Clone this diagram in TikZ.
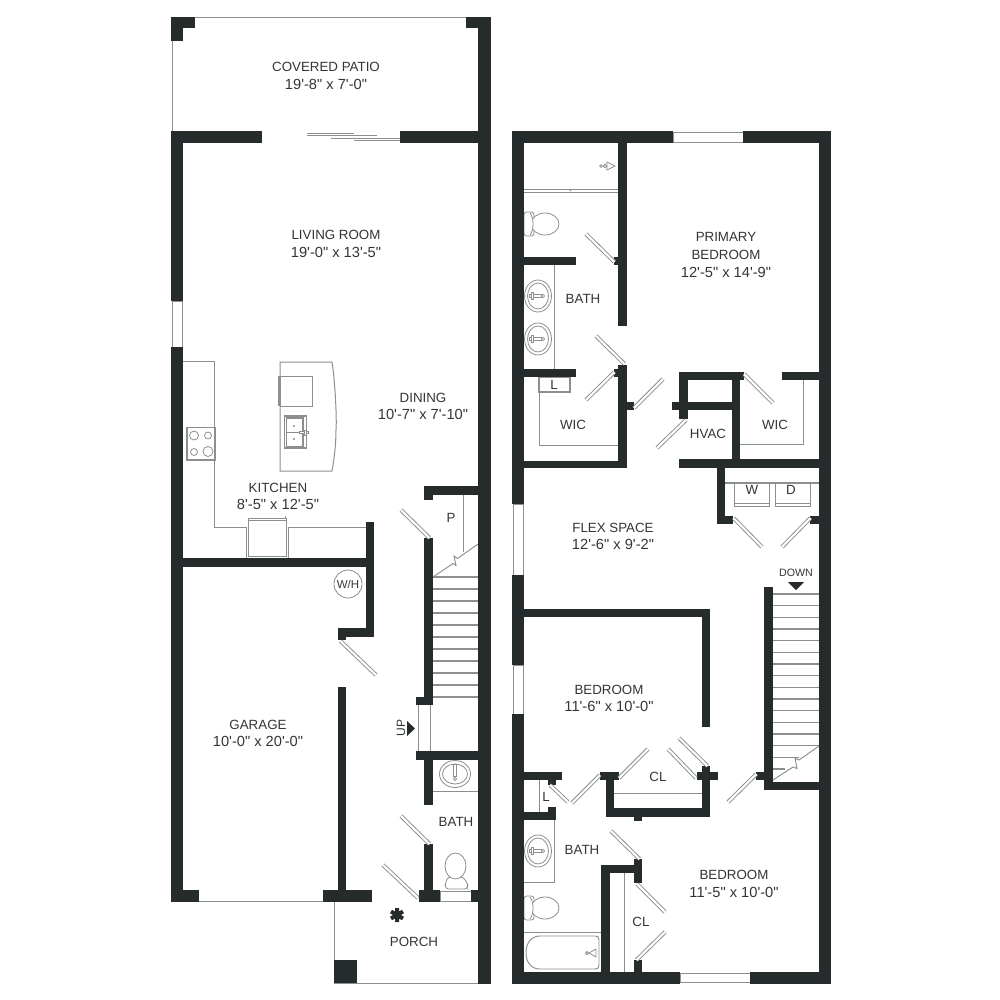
\documentclass[tikz,border=0pt]{standalone}
\usepackage{fontspec}
\setmainfont{Liberation Sans}[Ligatures=TeXOff]
\definecolor{wallc}{HTML}{262B2B}
\definecolor{linec}{HTML}{8C8F8F}
\definecolor{textc}{HTML}{333636}
\newcommand{\nm}[1]{{\fontsize{10}{13.2}\selectfont #1}}
\newcommand{\dm}[1]{{\fontsize{11}{13.2}\selectfont #1}}
\tikzset{
  wall/.style={fill=wallc,draw=none},
  thin line/.style={draw=linec,line width=0.75pt},
  fine/.style={draw=linec,line width=0.55pt},
  fixture/.style={draw=linec,line width=0.6pt,fill=white},
  leafo/.style={draw=linec,line width=3pt},
  leafi/.style={draw=white,line width=1.6pt},
  lab/.style={text=textc,align=center,inner sep=0pt,font=\fontsize{10}{13.2}\selectfont},
  smalllab/.style={text=textc,align=center,inner sep=0pt,font=\fontsize{8}{10}\selectfont},
  tread/.style={draw=linec,line width=0.8pt}
}
\newcommand{\Wl}[4]{\fill[wall] (#1,#2) rectangle (#3,#4);}
\newcommand{\Dr}[4]{\draw[leafo] (#1,#2) -- (#3,#4); \draw[leafi] (#1,#2) -- (#3,#4);}
\newcommand{\Win}[4]{\draw[fine,fill=white] (#1,#2) rectangle (#3,#4);}
\newcommand{\SinkH}[2]{%
  \draw[fixture] (#1,#2) ellipse (13.5 and 16);
  \draw[fixture] (#1,#2) ellipse (10.5 and 13);
  \draw[fixture] (#1-9,#2-1.5) rectangle (#1+3,#2+1.5);
  \draw[fixture] (#1-7,#2-3.5) rectangle (#1-5,#2+3.5);
  \draw[fixture] (#1+5,#2) circle (1.6);}
\newcommand{\ToiletL}[2]{%
  \draw[fixture,rounded corners=2pt] (524,#2-12) rectangle (534,#2+12);
  \draw[fixture] (#1,#2) ellipse (14 and 11);
  \draw[fixture] (530,#2-11) .. controls (534,#2-6) and (534,#2+6) .. (530,#2+11);}
\begin{document}
\begin{tikzpicture}[x=0.75pt,y=-0.75pt]
\useasboundingbox (0,0) rectangle (1000,1000);
\fill[white] (0,0) rectangle (1000,1000);

% ---------- left plan: thin lines ----------
\draw[thin line] (195,17.5) -- (466,17.5);
\draw[thin line] (172,41) -- (172,131);
\draw[thin line] (199,901.5) -- (323,901.5);
\draw[thin line] (334,902) -- (334,983) -- (478,983);
\Win{172}{301}{182}{348}
\Win{440}{891}{471}{901}
% sliding door
\draw[leafo,line width=2.4pt] (354,139.5) -- (400,139.5); \draw[leafi,line width=1.2pt] (354,139.5) -- (400,139.5);
\draw[leafo,line width=2.4pt] (331,137) -- (377,137); \draw[leafi,line width=1.2pt] (331,137) -- (377,137);
\draw[leafo,line width=2.4pt] (307,134.5) -- (354,134.5); \draw[leafi,line width=1.2pt] (307,134.5) -- (354,134.5);
% kitchen counters
\draw[thin line] (183,361) -- (214,361) -- (214,527) -- (246,527) -- (246,558);
\draw[thin line] (288,558) -- (288,527) -- (366,527);
\draw[fixture] (248,518) rectangle (286,556);
\draw[fine] (248,520.5) -- (286,520.5);
\draw[fine] (285,516) -- (285,518);
% stove
\draw[fixture,line width=1pt] (187,427.5) rectangle (215,460);
\draw[fixture] (194,435.5) circle (4.5);
\draw[fixture] (208,435.5) circle (3.5);
\draw[fixture] (194,452) circle (3.5);
\draw[fixture] (208,451.5) circle (5);
% island
\draw[thin line] (280,362) -- (332,362) .. controls (335,380) and (337,420) .. (336,430) .. controls (336,445) and (334,460) .. (332,471) -- (280,471) -- cycle;
\draw[fixture] (280,376) rectangle (312,406);
\draw[fixture,line width=1pt] (279,376) -- (279,406);
\draw[fixture,line width=0.8pt] (284.5,416) rectangle (306.5,448);
\draw[fixture,line width=0.8pt] (286.5,418) rectangle (303,447);
\draw[fine] (286.5,432.5) -- (303,432.5);
\fill[linec] (294,426) circle (1.2); \fill[linec] (294,439) circle (1.2);
\draw[fixture] (299,431.5) rectangle (308,433.5);
\draw[fixture] (304,430) rectangle (306,435);
% pantry / stairs
\draw[thin line] (463,495) -- (463,552);
\foreach \yy in {577,589,601,613,625,637,649,661,673,685,697}
  \draw[tread] (433,\yy) -- (478,\yy);
\draw[fine,line width=0.7pt] (433,577) -- (453,563.5) -- (456,565.5) -- (454,556) -- (457.5,558.5) -- (478,544);
\draw[thin line] (418,705) -- (418,751);
\draw[thin line] (430,705) -- (430,751);
% bath fixtures
\draw[thin line] (432,791) -- (478,791);
\draw[fixture] (455,774) ellipse (15.5 and 13.5);
\draw[fixture] (455,774) ellipse (12.5 and 10);
\draw[fixture] (453.5,764) rectangle (456.5,776);
\draw[fixture] (455,779) circle (1.6);
\draw[fixture,rounded corners=2pt] (445,884) -- (448,877) -- (463,877) -- (468,884) -- (467,889) -- (446,889) -- cycle;
\draw[fixture] (455.5,866) ellipse (10.5 and 13);
% W/H
\node[draw=linec,line width=0.6pt,circle,minimum size=21pt,inner sep=0pt] (wh) at (348,584) {};
\node[smalllab,font=\fontsize{8.6}{10}\selectfont] (whl) at (348,584) {W/H};
% up arrow
\fill[wallc] (407,721) -- (415,728.5) -- (407,736) -- cycle;
\node[smalllab,font=\fontsize{9}{10}\selectfont,rotate=90] (up) at (401,728) {UP};
% porch column
\fill[wallc] (334,960) rectangle (357,983);
% star
\draw[wallc,line width=3pt] (397,908) -- (397,922) (391,911.5) -- (403,918.5) (391,918.5) -- (403,911.5);

% ---------- left plan: walls ----------
\Wl{171}{17}{195}{28} \Wl{171}{28}{183}{41}
\Wl{466}{17}{491}{28} \Wl{478}{28}{491}{984}
\Wl{171}{131}{262}{143} \Wl{400}{131}{478}{143}
\Wl{171}{131}{183}{301} \Wl{171}{347}{183}{902}
\Wl{183}{558}{373}{567} \Wl{366}{522}{373.5}{637}
\Wl{338}{628}{373.5}{637} \Wl{338}{637}{346}{640}
\Wl{424}{486}{478}{495} \Wl{424}{495}{433}{500}
\Wl{424}{538}{432.5}{705} \Wl{416}{697}{432.5}{705}
\Wl{416}{751}{478}{760} \Wl{424}{760}{432.5}{805}
\Wl{424}{844}{432.5}{890} \Wl{419}{890}{440}{902} \Wl{471}{890}{478}{902}
\Wl{338}{687}{346}{890} \Wl{323}{890}{372}{902}
\Wl{171}{890}{199}{902}
% left doors
\Dr{401}{510}{429.5}{538}
\Dr{340.5}{641}{376}{675}
\Dr{401}{816}{429.5}{844}
\Dr{383}{865}{418}{898}

% ---------- right plan: thin lines ----------
\Win{673}{132}{743}{142}
\Win{513}{504}{523}{575}
\Win{513}{665}{523}{714}
\Win{680}{973}{750}{982}
% primary bath
\draw[fixture,line width=1.2pt] (524,189.5) -- (618,189.5);
\draw[fine] (524,192.5) -- (618,192.5);
\fill[linec] (570.5,190.5) circle (0.9);
\draw[fixture] (607,162) -- (615,166) -- (607,170) -- cycle;
\draw[fixture] (605,166) circle (1.8);
\draw[fine] (601,166) circle (1.3);
\ToiletL{545}{224}
\draw[thin line] (554,265) -- (554,369);
\SinkH{538}{296}
\SinkH{538}{339}
\draw[fixture,line width=0.8pt] (539,377) rectangle (570,392);
\draw[thin line] (539,392) -- (539,445) -- (618,445);
% right WIC
\draw[thin line] (803,380) -- (803,444) -- (740,444);
% laundry
\draw[thin line,line width=1.1pt] (725,483) -- (819,483);
\draw[fine] (734,483) -- (734,506) -- (769,506) -- (769,483);
\draw[fine] (734,503) -- (769,503);
\draw[fine] (775,483) -- (775,506) -- (810,506) -- (810,483);
\draw[fine] (775,503) -- (810,503);
% right stairs
\foreach \yy in {594,605.7,617.3,629,640.7,652.3,664,675.7,687.3,699,710.7,722.3,734,745.7}
  \draw[tread] (773,\yy) -- (819,\yy);
\draw[tread] (773,757.5) -- (799,757.5);
\draw[tread] (773,769) -- (785,769);
\draw[fine,line width=0.7pt] (773,780) -- (793,767) -- (797,768.5) -- (795,758) -- (799,760) -- (819,746);
\fill[wallc] (788,582) -- (804,582) -- (796,590) -- cycle;
\node[smalllab] (down) at (796,572.5) {DOWN};
% closet lower
\draw[thin line] (614,793) -- (702,793);
\draw[thin line] (539,780) -- (539,812);
\draw[thin line] (554,820) -- (554,882) -- (524,882);
\SinkH{538}{851}
\ToiletL{545}{908}
\draw[thin line] (524,932) -- (601,932);
\draw[fixture,line width=0.7pt] (540,936) -- (595,936) .. controls (598,936) and (599,937) .. (599,940) -- (599,965) .. controls (599,968) and (598,969) .. (595,969) -- (540,969) .. controls (531,969) and (526,962) .. (526,953) .. controls (526,943) and (531,936) .. (540,936) -- cycle;
\draw[fixture] (589,953) -- (596,949) -- (596,957) -- cycle;
\draw[fine] (587,953) circle (1.5);
\draw[thin line] (624,873) -- (624,972);

% ---------- right plan: walls ----------
\Wl{512}{131}{673}{143} \Wl{743}{131}{831}{143}
\Wl{512}{131}{523.5}{504} \Wl{512}{575}{523.5}{665} \Wl{512}{714}{523.5}{984}
\Wl{819}{131}{831}{984}
\Wl{512}{971.5}{680}{984} \Wl{750}{971.5}{831}{984}
\Wl{618}{143}{627}{326} \Wl{614}{257}{618}{265}
\Wl{524}{257}{576}{265} \Wl{524}{369}{576}{377}
\Wl{618}{365}{627}{468} \Wl{614}{369}{618}{377} \Wl{627}{402}{634}{410}
\Wl{524}{461}{627}{468}
\Wl{679}{372}{744}{380} \Wl{679}{380}{688}{419}
\Wl{672}{402}{732}{410} \Wl{732}{372}{740}{467}
\Wl{679}{459}{819}{467.5}
\Wl{782}{372}{819}{380}
\Wl{717}{467}{725}{524} \Wl{717}{516}{733}{524} \Wl{810}{516}{819}{524}
\Wl{764}{587}{773}{790} \Wl{764}{782}{819}{790} \Wl{756}{772}{764}{780}
\Wl{524}{609}{710}{617} \Wl{702}{609}{710}{727}
\Wl{524}{772}{562}{780} \Wl{548}{780}{556}{785}
\Wl{524}{812}{556}{820} \Wl{548}{807}{556}{812}
\Wl{600}{772}{619}{780} \Wl{606}{780}{614}{817}
\Wl{606}{808}{710}{817} \Wl{702}{766}{710}{817} \Wl{697}{772}{718}{780}
\Wl{634}{817}{642}{821}
\Wl{601}{865}{642}{873} \Wl{601}{865}{610}{972}
\Wl{634}{859}{642}{883} \Wl{634}{960}{642}{972}
% right doors
\Dr{586}{234}{614.5}{262}
\Dr{596}{336}{624.5}{364}
\Dr{586}{400}{614.5}{372}
\Dr{634}{408}{663}{379}
\Dr{657}{448}{686}{420}
\Dr{744}{374}{773}{403}
\Dr{733.5}{518}{762}{547}
\Dr{782}{547}{810.5}{518}
\Dr{550}{785}{568}{802}
\Dr{572}{803}{600}{775}
\Dr{619}{778}{648}{749}
\Dr{668}{749}{696}{778}
\Dr{679}{738}{707.5}{766}
\Dr{728}{802}{756.5}{774}
\Dr{611}{831}{639.5}{859}
\Dr{637}{884}{665}{912}
\Dr{636.5}{960}{665}{932}

% ---------- labels ----------
\node[lab] (patio) at (326,76) {\nm{COVERED PATIO}\\\dm{19'-8" x 7'-0"}};
\node[lab] (living) at (336,244) {\nm{LIVING ROOM}\\\dm{19'-0" x 13'-5"}};
\node[lab] (dining) at (423,406.5) {\nm{DINING}\\\dm{10'-7" x 7'-10"}};
\node[lab] (kitchen) at (278,496.5) {\nm{KITCHEN}\\\dm{8'-5" x 12'-5"}};
\node[lab] (pantry) at (451,518) {P};
\node[lab] (garage) at (258,733.5) {\nm{GARAGE}\\\dm{10'-0" x 20'-0"}};
\node[lab] (bath1) at (456,822) {BATH};
\node[lab] (porch) at (414,942) {PORCH};
\node[lab] (primary) at (726,255) {\nm{PRIMARY}\\\nm{BEDROOM}\\\dm{12'-5" x 14'-9"}};
\node[lab] (bath2) at (583,299) {BATH};
\node[lab] (wic1) at (573,425) {WIC};
\node[lab] (wic2) at (775,425) {WIC};
\node[lab] (hvac) at (708,434) {HVAC};
\node[lab] (washer) at (752,490) {W};
\node[lab] (dryer) at (791,490) {D};
\node[lab] (lshelf) at (554,384.5) {L};
\node[lab] (flex) at (613,536.5) {\nm{FLEX SPACE}\\\dm{12'-6" x 9'-2"}};
\node[lab] (bed1) at (609,698.5) {\nm{BEDROOM}\\\dm{11'-6" x 10'-0"}};
\node[lab] (cl1) at (658,777) {CL};
\node[lab] (l2) at (546,797) {L};
\node[lab] (bath3) at (582,850) {BATH};
\node[lab] (cl2) at (641,922) {CL};
\node[lab] (bed2) at (734,884) {\nm{BEDROOM}\\\dm{11'-5" x 10'-0"}};
\end{tikzpicture}
\end{document}
